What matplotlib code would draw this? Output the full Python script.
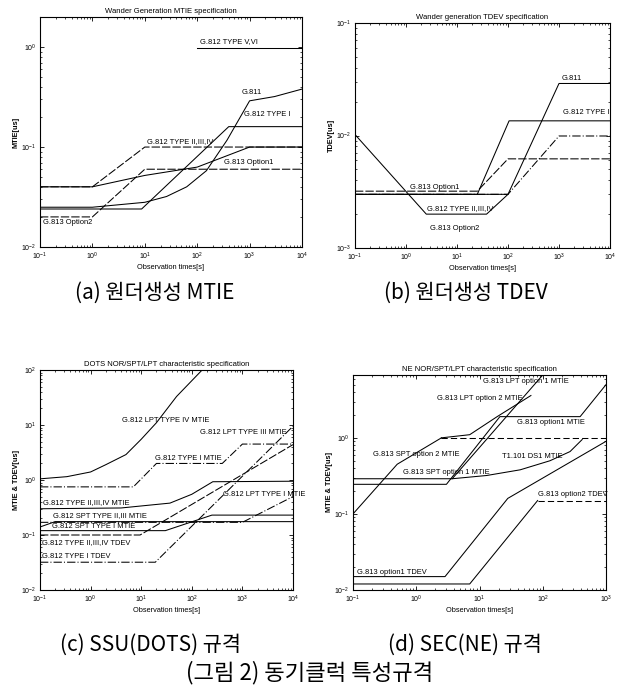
import matplotlib.pyplot as plt

W, H = 619, 691

# (a) Wander Generation MTIE specification
a_t_type56 = [100, 1e4]
a_v_type56 = [0.97, 0.97]
a_t_g811 = [0.1, 1, 10, 26, 63, 150, 370, 1000, 3000, 1e4]
a_v_g811 = [0.025, 0.025, 0.028, 0.032, 0.04, 0.058, 0.117, 0.29, 0.32, 0.38]
a_t_type1 = [0.1, 8.7, 400, 1e4]
a_v_type1 = [0.024, 0.024, 0.16, 0.16]
a_t_type234 = [0.1, 1, 10, 1e4]
a_v_type234 = [0.04, 0.04, 0.1, 0.1]
a_t_opt1 = [0.1, 1, 10, 100, 1000, 1e4]
a_v_opt1 = [0.04, 0.04, 0.052, 0.063, 0.1, 0.1]
a_t_opt2 = [0.1, 1, 10, 1e4]
a_v_opt2 = [0.02, 0.02, 0.06, 0.06]

# (b) Wander generation TDEV specification
b_t_g811 = [0.1, 100, 1000, 1e4]
b_v_g811 = [0.003, 0.003, 0.029, 0.029]
b_t_type1 = [0.1, 25, 105, 1e4]
b_v_type1 = [0.003, 0.003, 0.0135, 0.0135]
b_t_opt1 = [0.1, 25, 100, 1e4]
b_v_opt1 = [0.0032, 0.0032, 0.0062, 0.0062]
b_t_type234 = [0.1, 100, 1000, 1e4]
b_v_type234 = [0.003, 0.003, 0.0099, 0.0099]
b_t_opt2 = [0.1, 2.5, 38, 100]
b_v_opt2 = [0.0102, 0.002, 0.002, 0.003]

# (c) DOTS NOR/SPT/LPT characteristic specification
c_t_lpt4 = [0.1, 0.34, 1, 2, 5, 10, 20, 50, 160]
c_v_lpt4 = [1.05, 1.15, 1.4, 1.9, 2.9, 5.5, 11, 33, 100]
c_t_type1 = [0.1, 7, 20, 400, 1000, 1e4]
c_v_type1 = [0.75, 0.75, 2.0, 2.0, 4.5, 4.5]
c_t_type234 = [0.1, 4, 15, 37, 100, 260, 1e4]
c_v_type234 = [0.3, 0.31, 0.35, 0.38, 0.55, 0.93, 0.95]
c_t_spt23 = [0.1, 0.2, 1e4]
c_v_spt23 = [0.14, 0.175, 0.175]
c_t_spt1 = [0.1, 30, 250, 1e4]
c_v_spt1 = [0.12, 0.12, 0.23, 0.23]
c_t_tdev234 = [0.1, 9.5, 1e4]
c_v_tdev234 = [0.1, 0.1, 4.4]
c_t_tdev1 = [0.1, 19, 1e4]
c_v_tdev1 = [0.032, 0.032, 9.5]
c_t_lpt1 = [0.1, 1000, 1e4]
c_v_lpt1 = [0.17, 0.17, 0.5]

# (d) NE NOR/SPT/LPT characteristic specification
d_t_spt2 = [0.1, 0.5, 2.5, 1000]
d_v_spt2 = [0.1, 0.45, 1.0, 1.0]
d_t_lpt2 = [2.5, 7, 19, 65]
d_v_lpt2 = [1.0, 1.1, 1.9, 3.6]
d_t_opt1 = [0.1, 3, 21, 390, 1000]
d_v_opt1 = [0.245, 0.245, 1.9, 1.9, 5.0]
d_t_lpt1 = [0.1, 3.7, 100]
d_v_lpt1 = [0.29, 0.29, 6.7]
d_t_ds1 = [3.7, 13, 44, 130, 270, 420]
d_v_ds1 = [0.29, 0.32, 0.38, 0.5, 0.66, 0.95]
d_t_tdev1 = [0.1, 2.85, 28, 1000]
d_v_tdev1 = [0.015, 0.015, 0.16, 0.9]
d_t_tdev2 = [0.1, 7, 83, 1000]
d_v_tdev2 = [0.012, 0.012, 0.15, 0.15]

plt.rcParams['font.family'] = ['Liberation Sans', 'DejaVu Sans']
fig = plt.figure(figsize=(W / 100, H / 100), dpi=100)


def box(l, r, t, b):
    return [l / W, 1 - b / H, (r - l) / W, (b - t) / H]


def setup(ax, title, ylabel, xlim, ylim):
    ax.set_xscale('log')
    ax.set_yscale('log')
    ax.set_xlim(*xlim)
    ax.set_ylim(*ylim)
    ax.set_title(title, fontsize=5.5, pad=3)
    ax.set_xlabel('Observation times[s]', fontsize=5.3, labelpad=1.5)
    ax.set_ylabel(ylabel, fontsize=5.3, labelpad=1, fontweight='bold')
    ax.tick_params(which='both', direction='in', top=True, right=True, labelsize=5, pad=2.5)
    ax.tick_params(which='major', length=3, width=0.6)
    ax.tick_params(which='minor', length=1.5, width=0.5)
    for s in ax.spines.values():
        s.set_linewidth(0.8)


def label(txt, x, y):
    fig.text(x / W, 1 - y / H, txt, fontsize=5.4, va='center', ha='left')


lw = 0.75
k = 'black'

# (a)
ax = fig.add_axes(box(40, 302, 17, 247))
ax.plot(a_t_type56, a_v_type56, color=k, lw=lw)
ax.plot(a_t_g811, a_v_g811, color=k, lw=lw)
ax.plot(a_t_type1, a_v_type1, color=k, lw=lw)
ax.plot(a_t_type234, a_v_type234, color=k, lw=lw, ls=(0, (8, 2)))
ax.plot(a_t_opt1, a_v_opt1, color=k, lw=lw)
ax.plot(a_t_opt2, a_v_opt2, color=k, lw=lw, ls=(0, (8, 2)))
setup(ax, 'Wander Generation MTIE specification', 'MTIE[us]', (0.1, 1e4), (0.01, 2.0))
label('G.812 TYPE V,VI', 200, 42)
label('G.811', 242, 93)
label('G.812 TYPE I', 244, 115)
label('G.812 TYPE II,III,IV', 147, 142)
label('G.813 Option1', 224, 162)
label('G.813 Option2', 43, 222)

# (b)
ax = fig.add_axes(box(355, 610, 23, 248))
ax.plot(b_t_g811, b_v_g811, color=k, lw=lw)
ax.plot(b_t_type1, b_v_type1, color=k, lw=lw)
ax.plot(b_t_opt1, b_v_opt1, color=k, lw=lw, ls=(0, (8, 2)))
ax.plot(b_t_type234, b_v_type234, color=k, lw=lw, ls=(0, (8, 2, 1, 2)))
ax.plot(b_t_opt2, b_v_opt2, color=k, lw=lw)
setup(ax, 'Wander generation TDEV specification', 'TDEV[us]', (0.1, 1e4), (1e-3, 1e-1))
label('G.811', 562, 78)
label('G.812 TYPE I', 563, 113)
label('G.813 Option1', 410, 187)
label('G.812 TYPE II,III,IV', 427, 209)
label('G.813 Option2', 430, 228)

# (c)
ax = fig.add_axes(box(40, 293, 370, 590))
ax.plot(c_t_lpt4, c_v_lpt4, color=k, lw=lw)
ax.plot(c_t_type1, c_v_type1, color=k, lw=lw, ls=(0, (8, 2, 1, 2)))
ax.plot(c_t_type234, c_v_type234, color=k, lw=lw)
ax.plot(c_t_spt23, c_v_spt23, color=k, lw=lw)
ax.plot(c_t_spt1, c_v_spt1, color=k, lw=lw)
ax.plot(c_t_tdev234, c_v_tdev234, color=k, lw=lw, ls=(0, (8, 2)))
ax.plot(c_t_tdev1, c_v_tdev1, color=k, lw=lw, ls=(0, (8, 2, 1, 2)))
ax.plot(c_t_lpt1, c_v_lpt1, color=k, lw=lw, ls=(0, (8, 2, 1, 2)))
setup(ax, 'DOTS NOR/SPT/LPT characteristic specification', 'MTIE & TDEV[us]', (0.1, 1e4), (0.01, 100))
label('G.812 LPT TYPE IV MTIE', 122, 420)
label('G.812 LPT TYPE III MTIE', 200, 433)
label('G.812 TYPE I MTIE', 155, 458)
label('G.812 LPT TYPE I MTIE', 223, 494)
label('G.812 TYPE II,III,IV MTIE', 43, 503)
label('G.812 SPT TYPE II,III MTIE', 53, 516)
label('G.812 SPT TYPE I MTIE', 52, 527)
label('G.812 TYPE II,III,IV TDEV', 42, 543)
label('G.812 TYPE I TDEV', 42, 557)

# (d)
ax = fig.add_axes(box(353, 606, 375, 590))
ax.plot(d_t_spt2[:3], d_v_spt2[:3], color=k, lw=lw)
ax.plot(d_t_spt2[2:], d_v_spt2[2:], color=k, lw=lw, ls=(0, (6, 3)))
ax.plot(d_t_lpt2, d_v_lpt2, color=k, lw=lw)
ax.plot(d_t_opt1, d_v_opt1, color=k, lw=lw)
ax.plot(d_t_lpt1, d_v_lpt1, color=k, lw=lw)
ax.plot(d_t_ds1, d_v_ds1, color=k, lw=lw)
ax.plot(d_t_tdev1, d_v_tdev1, color=k, lw=lw)
ax.plot(d_t_tdev2[:3], d_v_tdev2[:3], color=k, lw=lw)
ax.plot(d_t_tdev2[2:], d_v_tdev2[2:], color=k, lw=lw, ls=(0, (6, 3)))
setup(ax, 'NE NOR/SPT/LPT characteristic specification', 'MTIE & TDEV[us]', (0.1, 1000), (0.01, 6.7))
label('G.813 LPT option 1 MTIE', 483, 382)
label('G.813 LPT option 2 MTIE', 437, 398)
label('G.813 option1 MTIE', 517, 423)
label('G.813 SPT option 2 MTIE', 373, 455)
label('T1.101 DS1 MTIE', 502, 457)
label('G.813 SPT option 1 MTIE', 403, 473)
label('G.813 option2 TDEV', 538, 495)
label('G.813 option1 TDEV', 357, 572)

# captions
kr = ['Noto Sans CJK KR', 'DejaVu Sans']
for txt, x, y, fs in [('(a) 원더생성 MTIE', 155, 293, 15), ('(b) 원더생성 TDEV', 466, 293, 15),
                      ('(c) SSU(DOTS) 규격', 150, 645, 15), ('(d) SEC(NE) 규격', 465, 645, 15),
                      ('(그림 2) 동기클럭 특성규격', 310, 673, 16)]:
    fig.text(x / W, 1 - y / H, txt, fontsize=fs, family=kr, ha='center', va='center')

plt.savefig('out.png', dpi=100)
